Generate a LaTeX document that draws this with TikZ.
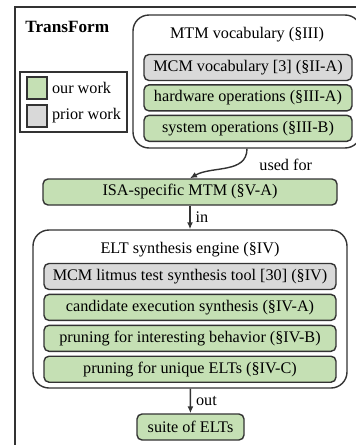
\documentclass[tikz,border=0pt]{standalone}
\usepackage{fontspec}
\setmainfont{Liberation Serif}
\usetikzlibrary{arrows.meta,positioning}
\definecolor{ourgreen}{HTML}{C5E0B4}
\definecolor{priorgray}{HTML}{D9D9D9}
\begin{document}
\begin{tikzpicture}[x=0.5pt, y=-0.5pt, >={Latex[length=3.5pt,width=3pt]}, font=\fontsize{8.1}{9.7}\selectfont,
  line/.style={draw=black!80, line width=0.7pt},
  group/.style={line, rounded corners=8pt, inner sep=0pt},
  item/.style={line, rounded corners=2.5pt, minimum height=13pt, inner sep=1pt},
  ours/.style={item, fill=ourgreen}, prior/.style={item, fill=priorgray},
  mtmrow/.style={minimum width=104pt}, eltrow/.style={minimum width=146pt},
  swatch/.style={line, minimum width=10pt, minimum height=11pt, inner sep=0pt},
  lbl/.style={inner sep=1.5pt}]
\useasboundingbox (0,0) rectangle (355,445);
\draw[line] (15,450) -- (15,7) -- (360,7);
\node[font=\fontsize{8.6}{10}\selectfont\bfseries, inner sep=0pt, anchor=west] (title) at (25,26.5) {TransForm};
% legend
\node[line, minimum width=53.5pt, minimum height=30pt, inner sep=0pt] (legend) at (73.5,102) {};
\node[swatch, fill=ourgreen] (oursw) at (37,88) {};
\node[swatch, fill=priorgray] (priorsw) at (37,116) {};
\node[lbl, right=0.5pt of oursw] (ourtxt) {our work};
\node[lbl, right=0.5pt of priorsw] (priortxt) {prior work};
% MTM vocabulary
\node[group, minimum width=114pt, minimum height=66.5pt] (mtm) at (247,81.5) {};
\node (mtmtitle) at (247,35) {MTM vocabulary (§III)};
\node[prior, mtmrow] (mcmvocab) at (248,67.5) {MCM vocabulary [3] (§II-A)};
\node[ours, mtmrow, below=1.5pt of mcmvocab] (hwops) {hardware operations (§III-A)};
\node[ours, mtmrow, below=1.5pt of hwops] (sysops) {system operations (§III-B)};
% ISA-specific MTM
\node[ours, minimum width=147pt] (isa) at (190,192) {ISA-specific MTM (§V-A)};
\draw[line, ->] (mtm.south) to[out=-90, in=30] (isa.north);
\node[lbl, anchor=west] (usedfor) at (256,165) {used for};
% ELT synthesis engine
\node[group, minimum width=157pt, minimum height=79pt] (elt) at (190,309) {};
\node (elttitle) at (190,250) {ELT synthesis engine (§IV)};
\node[prior, eltrow] (litmus) at (190,276.5) {MCM litmus test synthesis tool [30] (§IV)};
\node[ours, eltrow, below=1.75pt of litmus] (cand) {candidate execution synthesis (§IV-A)};
\node[ours, eltrow, below=1.75pt of cand] (interest) {pruning for interesting behavior (§IV-B)};
\node[ours, eltrow, below=1.75pt of interest] (unique) {pruning for unique ELTs (§IV-C)};
\draw[line, ->] (isa) -- node[lbl, right, xshift=1pt] {in} (elt);
% output
\node[ours, minimum width=53.5pt] (suite) at (190.5,427) {suite of ELTs};
\draw[line, ->] (elt) -- node[lbl, right, xshift=1pt] {out} (suite);
\end{tikzpicture}
\end{document}
